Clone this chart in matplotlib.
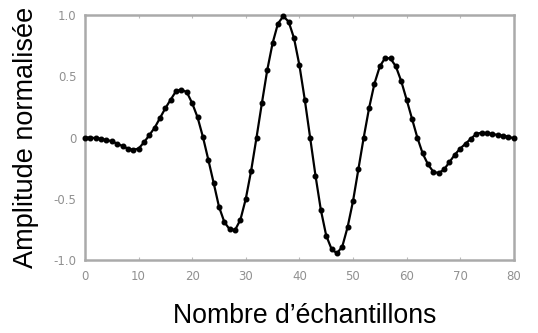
import numpy as np
import matplotlib
matplotlib.use("Agg")
import matplotlib.pyplot as plt

# sample index and normalised amplitude of the wavelet
samples = np.arange(0, 81)
amplitude = [
    0.00, 0.00, -0.005, -0.01, -0.02, -0.03, -0.05, -0.07, -0.09, -0.10,
    -0.09, -0.04, 0.02, 0.08, 0.16, 0.24, 0.31, 0.38, 0.39, 0.37,
    0.28, 0.165, 0.005, -0.18, -0.37, -0.565, -0.69, -0.75, -0.755, -0.67,
    -0.50, -0.27, 0.00, 0.28, 0.55, 0.77, 0.93, 0.99, 0.945, 0.81,
    0.59, 0.31, 0.00, -0.31, -0.59, -0.80, -0.91, -0.945, -0.89, -0.73,
    -0.52, -0.26, 0.00, 0.24, 0.44, 0.58, 0.65, 0.645, 0.58, 0.46,
    0.31, 0.155, 0.00, -0.13, -0.22, -0.28, -0.29, -0.26, -0.20, -0.14,
    -0.09, -0.05, -0.01, 0.03, 0.04, 0.035, 0.03, 0.02, 0.015, 0.007,
    -0.007,
]

x_ticks = [0, 10, 20, 30, 40, 50, 60, 70, 80]
y_ticks = [-1.0, -0.5, 0.0, 0.5, 1.0]
y_tick_labels = ["-1.0", "-0.5", "0", "0.5", "1.0"]

fig = plt.figure(figsize=(5.38, 3.33), dpi=100)
ax = fig.add_axes([0.158, 0.219, 0.797, 0.736])

ax.plot(samples, amplitude, color="black", lw=1.6, marker="o", ms=3.3,
        clip_on=False, zorder=3)

ax.set_xlim(0, 80)
ax.set_ylim(-1.0, 1.0)
ax.set_xticks(x_ticks)
ax.set_yticks(y_ticks)
ax.set_yticklabels(y_tick_labels)

for side in ["left", "right", "top", "bottom"]:
    ax.spines[side].set_color("#aaaaaa")
    ax.spines[side].set_linewidth(1.8)

ax.tick_params(axis="x", direction="in", length=2, width=0.8, color="#bbbbbb",
               top=True, labelsize=8.5, labelcolor="#909090", pad=7)
ax.tick_params(axis="y", length=0, labelsize=8.5, labelcolor="#909090", pad=6)

ax.set_xlabel("Nombre d\u2019\u00e9chantillons", family="Liberation Sans",
              fontsize=19.2)
ax.xaxis.set_label_coords(0.513, -0.175)
ax.set_ylabel("Amplitude normalis\u00e9e", family="Liberation Sans",
              fontsize=19.5)
ax.yaxis.set_label_coords(-0.107, 0.5)

fig.savefig("out.png", dpi=100, facecolor="white")
